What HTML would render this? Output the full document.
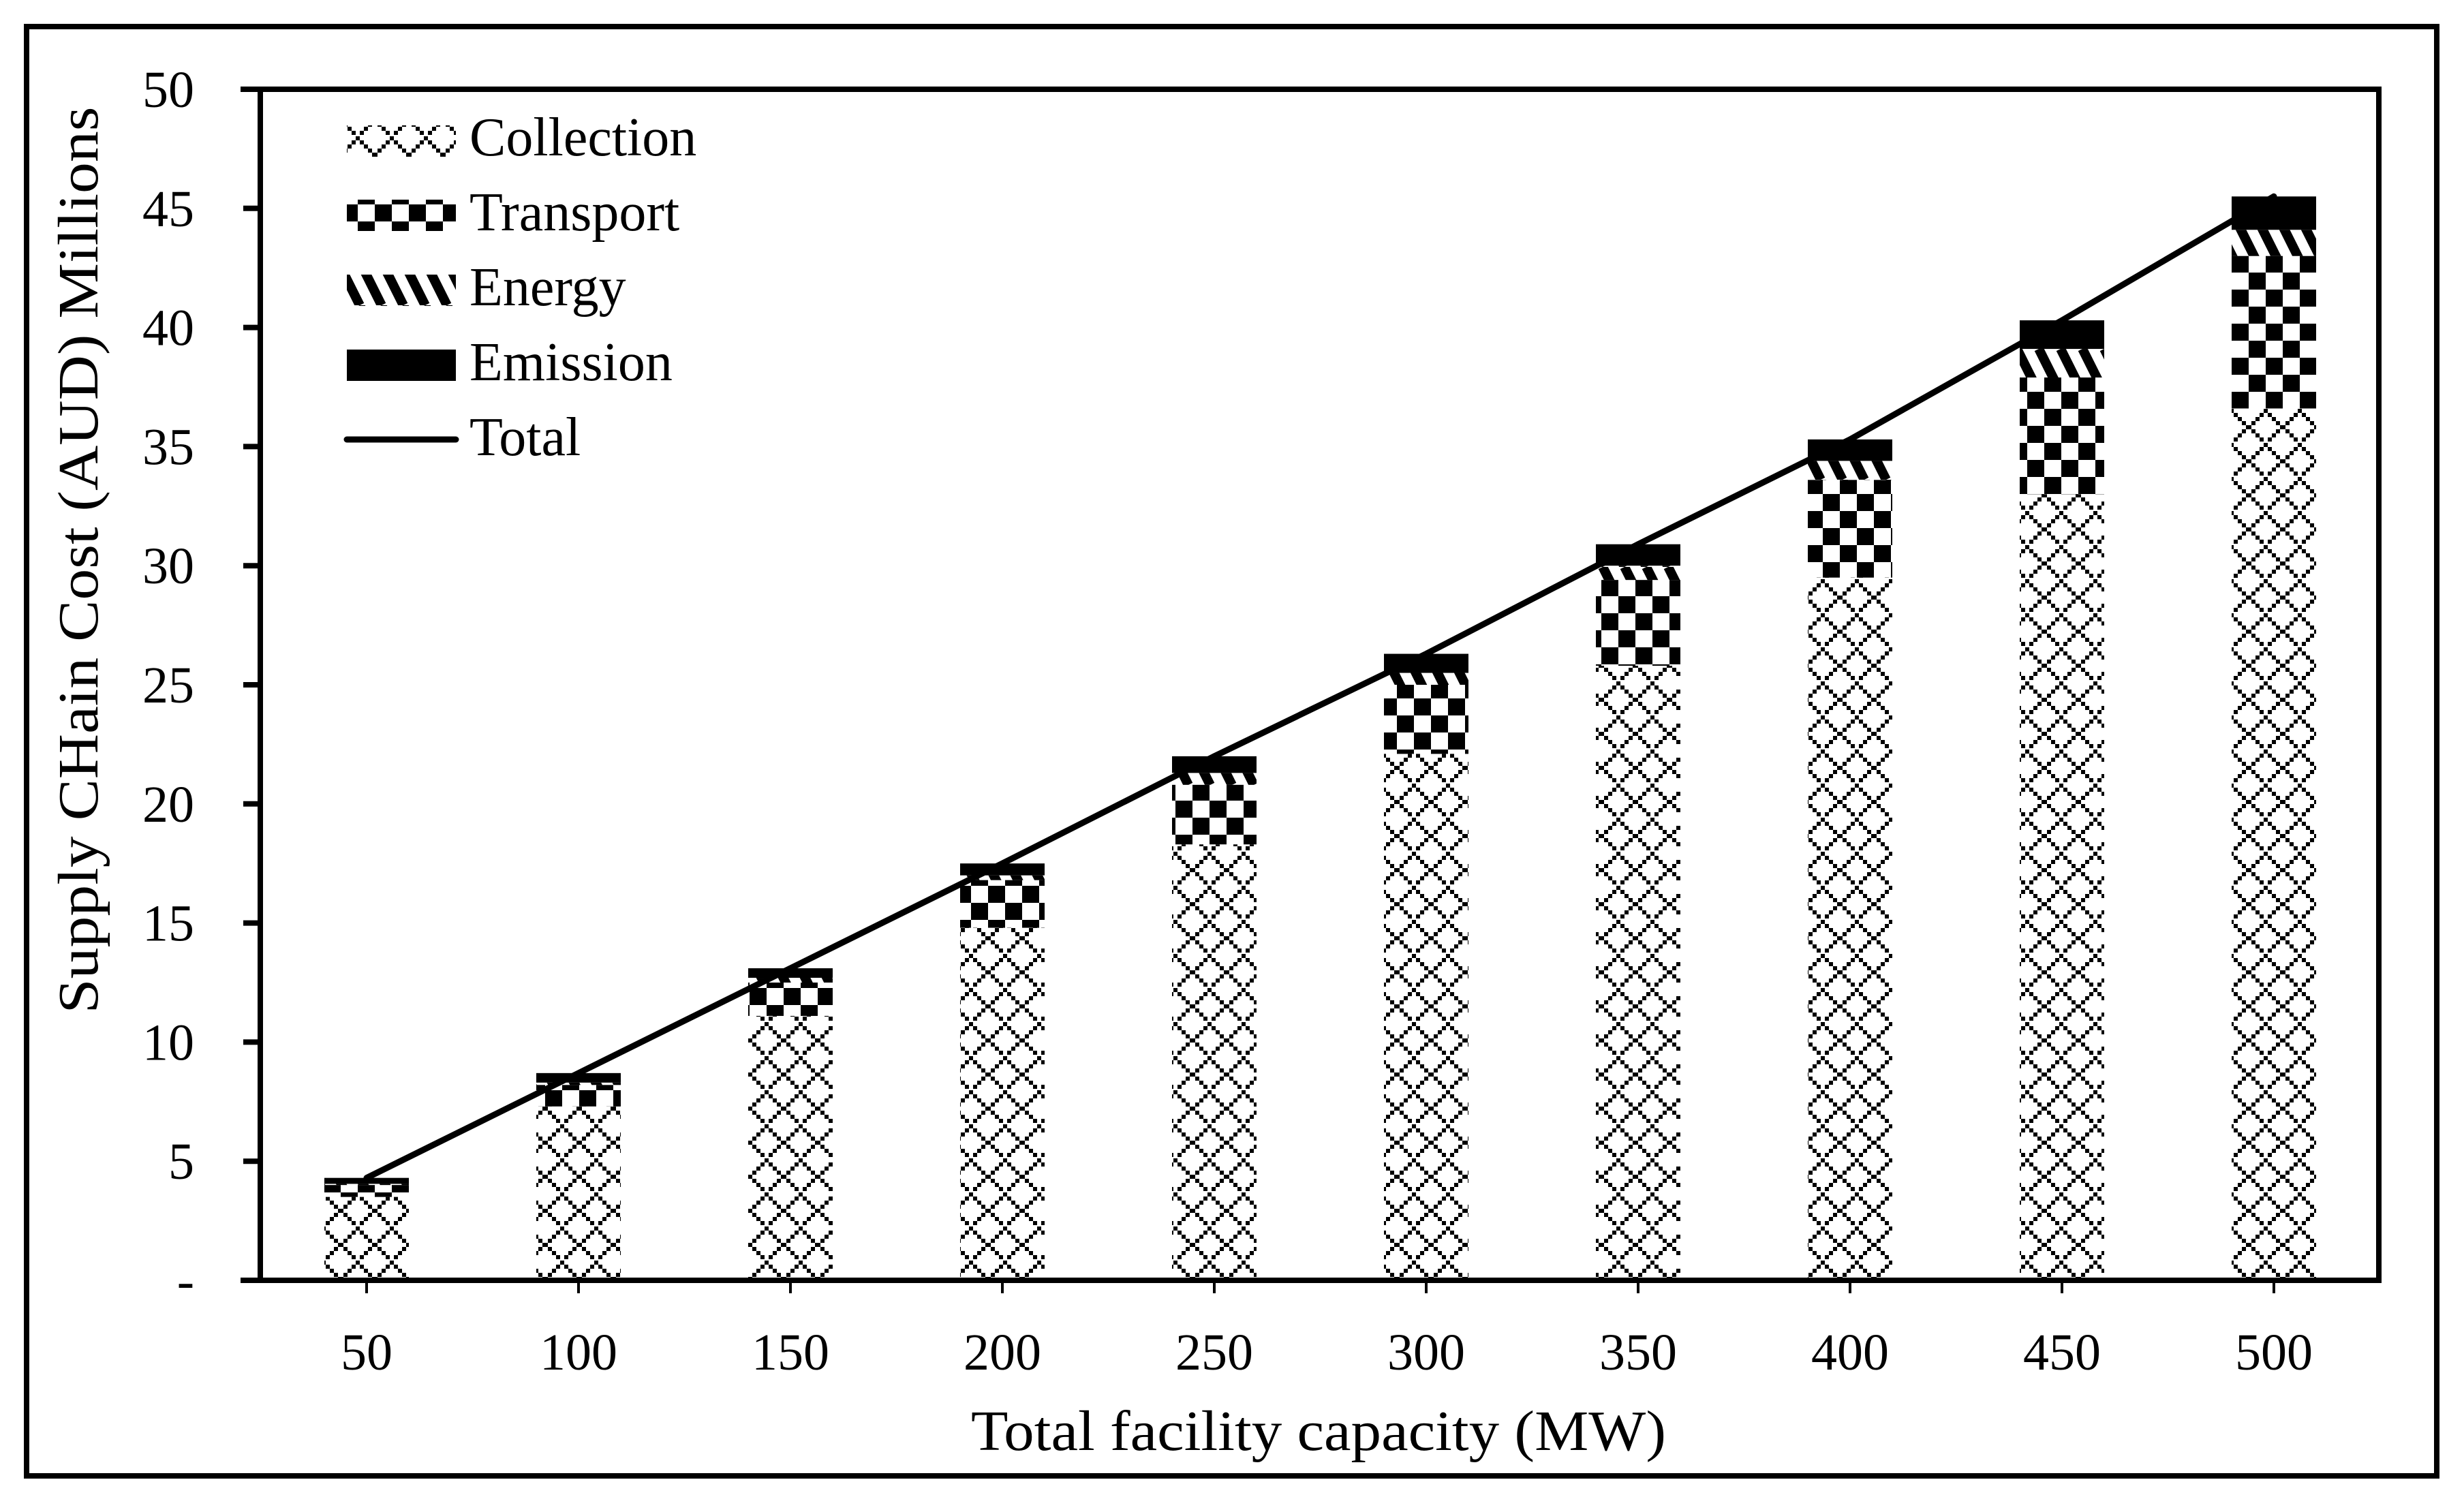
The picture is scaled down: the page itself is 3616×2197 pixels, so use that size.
<!DOCTYPE html>
<html><head><meta charset="utf-8"><style>
html,body{margin:0;padding:0;background:#fff;}
svg{display:block;}
text{font-family:"Liberation Serif",serif;fill:#000;}
</style></head><body>
<svg id="chart" width="3616" height="2197" viewBox="0 0 3616 2197" xmlns="http://www.w3.org/2000/svg">
<defs>
<pattern id="pColl" patternUnits="userSpaceOnUse" width="50" height="50" x="0" y="0">
<g fill="#000">
<rect x="22" y="0" width="6" height="6"/><rect x="16" y="6" width="6" height="6"/><rect x="28" y="6" width="6" height="6"/>
<rect x="10" y="12" width="6" height="6"/><rect x="34" y="12" width="6" height="6"/>
<rect x="4" y="18" width="6" height="6"/><rect x="40" y="18" width="6" height="6"/>
<rect x="-2" y="24" width="6" height="6"/><rect x="46" y="24" width="6" height="6"/>
<rect x="4" y="30" width="6" height="6"/><rect x="40" y="30" width="6" height="6"/>
<rect x="10" y="36" width="6" height="6"/><rect x="34" y="36" width="6" height="6"/>
<rect x="16" y="42" width="6" height="6"/><rect x="28" y="42" width="6" height="6"/>
</g></pattern>
<pattern id="pTrans" patternUnits="userSpaceOnUse" width="50" height="50">
<rect x="0" y="0" width="25" height="25" fill="#000"/><rect x="25" y="25" width="25" height="25" fill="#000"/>
</pattern>
<pattern id="pEnergy" patternUnits="userSpaceOnUse" width="64" height="64">
<path d="M-16,0 L16,64 M16,0 L48,64 M48,0 L80,64" stroke="#000" stroke-width="14"/>
</pattern>
</defs>
<rect x="39" y="39" width="3537" height="2127" fill="none" stroke="#000" stroke-width="8"/>
<g id="bars"></g>
<g id="axes"></g>
<g>
<rect x="509" y="184" width="160" height="46" fill="url(#pColl)"/>
<text x="689" y="228" font-size="80">Collection</text>
<rect x="509" y="293" width="160" height="46" fill="url(#pTrans)"/>
<text x="689" y="338" font-size="80">Transport</text>
<rect x="509" y="403" width="160" height="46" fill="url(#pEnergy)"/>
<text x="689" y="448" font-size="80">Energy</text>
<rect x="509" y="513" width="160" height="46" fill="#000"/>
<text x="689" y="558" font-size="80">Emission</text>
<line x1="509" y1="645" x2="669" y2="645" stroke="#000" stroke-width="9" stroke-linecap="round"/>
<text x="689" y="668" font-size="80">Total</text>
</g>
<text x="1935" y="2128" font-size="84" text-anchor="middle" textLength="1020" lengthAdjust="spacingAndGlyphs">Total facility capacity (MW)</text>
<text transform="translate(143,822) rotate(-90)" font-size="84" text-anchor="middle" textLength="1331" lengthAdjust="spacingAndGlyphs">Supply CHain Cost (AUD)  Millions</text>
</svg>
<script>
const categories = ["50","100","150","200","250","300","350","400","450","500"];
const collection = [3.5, 7.3, 11.1, 14.8, 18.3, 22.1, 25.8, 29.5, 33.0, 36.6];
const transport  = [0.5, 0.9, 1.4, 2.0, 2.5, 2.9, 3.6, 4.1, 4.9, 6.4];
const energy     = [0.05, 0.1, 0.2, 0.2, 0.5, 0.5, 0.6, 0.8, 1.2, 1.1];
const emission   = [0.25, 0.4, 0.4, 0.5, 0.7, 0.8, 0.9, 0.9, 1.2, 1.4];
const yTicks = [0,5,10,15,20,25,30,35,40,45,50];
const yTickLabels = ["-","5","10","15","20","25","30","35","40","45","50"];

const NS = "http://www.w3.org/2000/svg";
const plotL = 382, plotR = 3491, plotT = 131, plotB = 1879;
const yMax = 50;
function yScale(v){ return plotB - v/yMax*(plotB-plotT); }
function xScale(i){ return 538 + i*311; }
const barW = 124;
function mk(tag, attrs, parent){
  const e = document.createElementNS(NS, tag);
  for (const k in attrs) e.setAttribute(k, attrs[k]);
  parent.appendChild(e); return e;
}
const bars = document.getElementById('bars');
const axes = document.getElementById('axes');
const series = [
  {name:'collection', vals:collection, fill:'url(#pColl)'},
  {name:'transport', vals:transport, fill:'url(#pTrans)'},
  {name:'energy', vals:energy, fill:'url(#pEnergy)'},
  {name:'emission', vals:emission, fill:'#000'}
];
const totals = categories.map((c,i)=>collection[i]+transport[i]+energy[i]+emission[i]);
categories.forEach((c,i)=>{
  let base = 0;
  series.forEach(s=>{
    const v = s.vals[i];
    const y1 = yScale(base+v), y0 = yScale(base);
    const r = mk('rect',{x:xScale(i)-barW/2, y:y1, width:barW, height:Math.max(0,y0-y1), fill:s.fill}, bars);
    
    
    base += v;
  });
});
const pts = totals.map((t,i)=>xScale(i)+','+yScale(t)).join(' ');
const pl = mk('polyline',{points:pts, fill:'none', stroke:'#000', 'stroke-width':9, 'stroke-linejoin':'round', 'stroke-linecap':'round'}, bars);


const box = [
  [plotL,plotT,plotL,plotB],[plotR,plotT,plotR,plotB],
  [357,plotT,plotR,plotT],[357,plotB,plotR,plotB]
];
box.forEach((b,k)=>{
  const l = mk('line',{x1:b[0],y1:b[1],x2:b[2],y2:b[3],stroke:'#000','stroke-width':8,'stroke-linecap':'square'}, axes);
  
  
});
yTicks.forEach((v,k)=>{
  const y = yScale(v);
  const t = mk('line',{x1:357,y1:y,x2:plotL,y2:y,stroke:'#000','stroke-width':8}, axes);
  
  
  const tx = mk('text',{x:285,y:y+26,'font-size':76,'text-anchor':'end'}, axes);
  tx.textContent = yTickLabels[k];
  
  
});
categories.forEach((c,i)=>{
  const x = xScale(i);
  const t = mk('line',{x1:x,y1:plotB,x2:x,y2:1898,stroke:'#000','stroke-width':4}, axes);
  
  
  const tx = mk('text',{x:x,y:2010,'font-size':76,'text-anchor':'middle'}, axes);
  tx.textContent = c;
  
  
});
</script>
</body></html>
